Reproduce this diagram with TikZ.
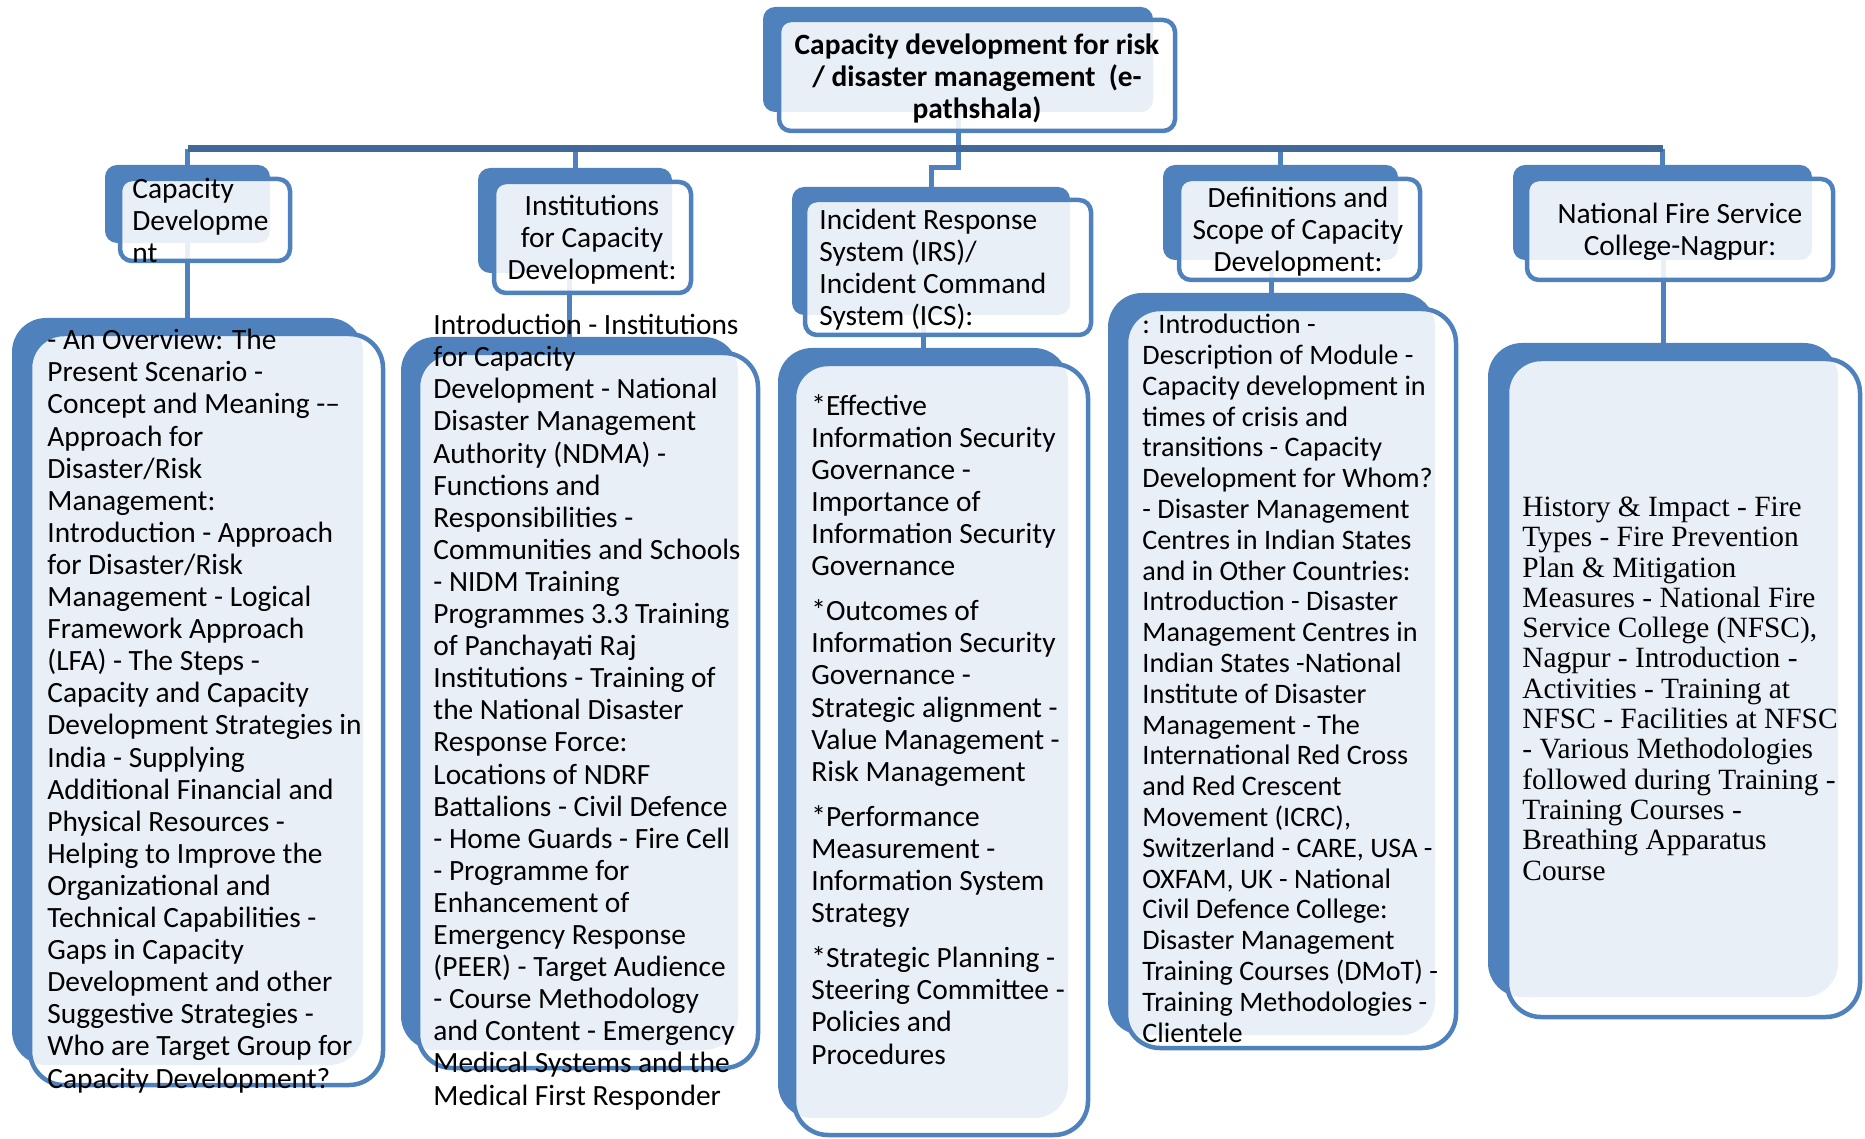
\documentclass[tikz,border=0pt]{standalone}
\usepackage{fontspec}
\setmainfont{Carlito}
\newfontfamily\serifbody{Liberation Serif}
\usepackage{tikz}

\definecolor{boxblue}{RGB}{79,129,189}
\definecolor{busblue}{RGB}{64,104,153}

\begin{document}
\begin{tikzpicture}[
  x=0.5pt,y=-0.5pt,
  backbox/.style={rectangle,fill=boxblue,inner sep=0pt,outer sep=0pt,anchor=north west,rounded corners=6pt},
  frontbox/.style={rectangle,draw=boxblue,line width=2.25pt,fill=white,fill opacity=0.88,inner sep=0pt,outer sep=0pt,anchor=north west,rounded corners=6pt},
  bigcorner/.style={rounded corners=17pt},
  stub/.style={draw=boxblue,line width=2.5pt},
  bus/.style={draw=busblue,line width=3.5pt},
  txt/.style={inner sep=0pt,font=\fontsize{14.7pt}{16.05pt}\selectfont,align=left,anchor=base west},
  ctxt/.style={txt,align=center,anchor=base}
]
\useasboundingbox (0,0) rectangle (1865,1139);

% back boxes
\node[backbox,minimum width=195pt,minimum height=52.5pt] (topb) at (763,7) {};
\node[backbox,minimum width=82.5pt,minimum height=39pt] (h1b) at (105,165) {};
\node[backbox,minimum width=97pt,minimum height=52.5pt] (h2b) at (478,168) {};
\node[backbox,minimum width=139pt,minimum height=64pt] (h3b) at (792,187) {};
\node[backbox,minimum width=117.5pt,minimum height=47.5pt] (h4b) at (1163,165) {};
\node[backbox,minimum width=149.5pt,minimum height=47.5pt] (h5b) at (1513,165) {};
\node[backbox,bigcorner,minimum width=175.5pt,minimum height=373.5pt] (b1b) at (12,318) {};
\node[backbox,bigcorner,minimum width=168.5pt,minimum height=356.5pt] (b2b) at (401,337) {};
\node[backbox,bigcorner,minimum width=145pt,minimum height=385pt] (b3b) at (778,348) {};
\node[backbox,bigcorner,minimum width=163.5pt,minimum height=371pt] (b4b) at (1108,293) {};
\node[backbox,bigcorner,minimum width=175pt,minimum height=327pt] (b5b) at (1488,343) {};

% connectors
\coordinate (bus) at (0,149);
\foreach \hx in {h1b,h2b,h4b,h5b}
  \draw[stub] (\hx.north) -- (\hx.north |- bus);
\draw[stub] (topb.south) -- ++(0,56) -| (h3b.north);
\draw[bus] (h1b.north |- bus) -- (h5b.north |- bus);
\foreach \bx/\hx in {b1b/h1b,b2b/h2b,b3b/h3b,b4b/h4b,b5b/h5b}
  \draw[stub] (\bx.north) -- (\bx.north |- \hx.south);

% front boxes
\node[frontbox,minimum width=198pt,minimum height=55.5pt] (top) at (779,20) {};
\node[frontbox,minimum width=85pt,minimum height=41pt] (h1) at (120,179) {};
\node[frontbox,minimum width=98.5pt,minimum height=55.5pt] (h2) at (494,182) {};
\node[frontbox,minimum width=143pt,minimum height=67.5pt] (h3) at (805,200) {};
\node[frontbox,minimum width=120.5pt,minimum height=50.5pt] (h4) at (1179,179) {};
\node[frontbox,minimum width=153pt,minimum height=50.5pt] (h5) at (1527,179) {};
\node[frontbox,bigcorner,minimum width=176.5pt,minimum height=375.5pt] (b1) at (30,334) {};
\node[frontbox,bigcorner,minimum width=170pt,minimum height=357.5pt] (b2) at (418,353) {};
\node[frontbox,bigcorner,minimum width=147pt,minimum height=385.5pt] (b3) at (794,364) {};
\node[frontbox,bigcorner,minimum width=165pt,minimum height=369.5pt] (b4) at (1126,309) {};
\node[frontbox,bigcorner,minimum width=176.5pt,minimum height=329pt] (b5) at (1507,359) {};

% texts (placed at the baseline of their last line)
\node[ctxt,font=\bfseries\fontsize{14.7pt}{16.05pt}\selectfont] (toptxt) at (977,119)
  {Capacity development for risk\\/ disaster management\ \ (e-\\pathshala)};
\node[txt] (h1t) at (132,263) {Capacity\\Developme\\nt};
\node[ctxt] (h2t) at (592,280) {Institutions\\for Capacity\\Development:};
\node[txt] (h3t) at (819,326) {Incident Response\\System (IRS)/\\Incident Command\\System (ICS):};
\node[ctxt] (h4t) at (1298,272) {Definitions and\\Scope of Capacity\\Development:};
\node[ctxt] (h5t) at (1680,256) {National Fire Service\\College-Nagpur:};

\node[txt] (b1t) at (47,1088) {- An Overview: The\\Present Scenario -\\Concept and Meaning -–\\Approach for\\Disaster/Risk\\Management:\\Introduction - Approach\\for Disaster/Risk\\Management - Logical\\Framework Approach\\(LFA) - The Steps -\\Capacity and Capacity\\Development Strategies in\\India - Supplying\\Additional Financial and\\Physical Resources -\\Helping to Improve the\\Organizational and\\Technical Capabilities -\\Gaps in Capacity\\Development and other\\Suggestive Strategies -\\Who are Target Group for\\Capacity Development?};
\node[txt] (b2t) at (433,1105) {Introduction - Institutions\\for Capacity\\Development - National\\Disaster Management\\Authority (NDMA) -\\Functions and\\Responsibilities -\\Communities and Schools\\- NIDM Training\\Programmes 3.3 Training\\of Panchayati Raj\\Institutions - Training of\\the National Disaster\\Response Force:\\Locations of NDRF\\Battalions - Civil Defence\\- Home Guards - Fire Cell\\- Programme for\\Enhancement of\\Emergency Response\\(PEER) - Target Audience\\- Course Methodology\\and Content - Emergency\\Medical Systems and the\\Medical First Responder};
\node[txt] (b3t) at (811,1064) {*Effective\\Information Security\\Governance -\\Importance of\\Information Security\\Governance\\[6.5pt]*Outcomes of\\Information Security\\Governance -\\Strategic alignment -\\Value Management -\\Risk Management\\[6.5pt]*Performance\\Measurement -\\Information System\\Strategy\\[6.5pt]*Strategic Planning -\\Steering Committee -\\Policies and\\Procedures};
\node[txt,font=\fontsize{14.1pt}{15.4pt}\selectfont] (b4t) at (1142,1042) {: Introduction -\\Description of Module -\\Capacity development in\\times of crisis and\\transitions - Capacity\\Development for Whom?\\- Disaster Management\\Centres in Indian States\\and in Other Countries:\\Introduction - Disaster\\Management Centres in\\Indian States -National\\Institute of Disaster\\Management - The\\International Red Cross\\and Red Crescent\\Movement (ICRC),\\Switzerland - CARE, USA -\\OXFAM, UK - National\\Civil Defence College:\\Disaster Management\\Training Courses (DMoT) -\\Training Methodologies -\\Clientele};
\node[txt,font=\serifbody\fontsize{14.7pt}{15.15pt}\selectfont] (b5t) at (1522,880) {History \& Impact - Fire\\Types - Fire Prevention\\Plan \& Mitigation\\Measures - National Fire\\Service College (NFSC),\\Nagpur - Introduction -\\Activities - Training at\\NFSC - Facilities at NFSC\\- Various Methodologies\\followed during Training -\\Training Courses -\\Breathing Apparatus\\Course};
\end{tikzpicture}
\end{document}
